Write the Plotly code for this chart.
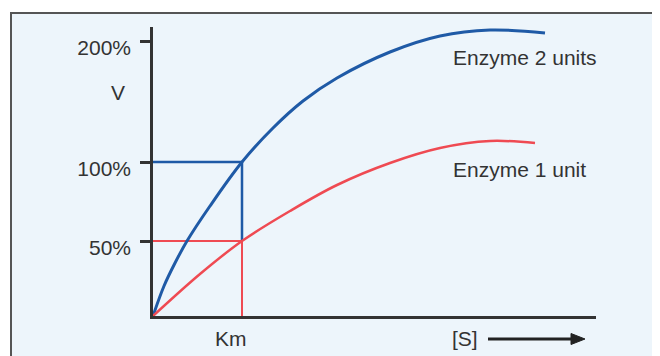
import plotly.graph_objects as go

# Schematic substrate axis (arbitrary units) and velocity (arbitrary units)
s_blue = [0, 11, 22, 34, 57, 89, 120, 150, 184, 237, 287, 337, 392]
v_blue = [0, 30, 53, 75, 110, 154, 188, 215, 238, 264, 280, 286, 283]
s_red = [0, 47, 89, 137, 184, 237, 287, 337, 382]
v_red = [0, 42, 75, 105, 131, 153, 168, 175, 173]

km = 89
v_half = 75
v_full = 154
y_tickvals = [75, 154, 275]
y_ticktext = ["50%", "100%", "200%"]
x_labels = ["Km", "[S]"]
x_label_pos = [78, 312]

X_MAX = 443
Y_MAX = 289

BLUE = "#1f5aa6"
RED = "#ef4a52"
INK = "#333333"
FONT = "Liberation Sans, Arial, sans-serif"


def px(xp):
    return (xp - 153) / X_MAX


def py(yp):
    return (316 - yp) / Y_MAX


fig = go.Figure()
# guide lines
fig.add_trace(go.Scatter(x=[0, km, km], y=[v_full, v_full, v_half], mode="lines",
                         line=dict(color=BLUE, width=2.5), hoverinfo="skip"))
fig.add_trace(go.Scatter(x=[0, km, km], y=[v_half, v_half, 0], mode="lines",
                         line=dict(color=RED, width=2), hoverinfo="skip"))
# curves
fig.add_trace(go.Scatter(x=s_blue, y=v_blue, mode="lines",
                         line=dict(color=BLUE, width=3, shape="spline", smoothing=1.0)))
fig.add_trace(go.Scatter(x=s_red, y=v_red, mode="lines",
                         line=dict(color=RED, width=2.5, shape="spline", smoothing=1.0)))

annotations = [
    dict(x=px(118), y=py(92), xref="paper", yref="paper", text="V", showarrow=False,
         xanchor="center", yanchor="middle", font=dict(size=21, color=INK)),
    dict(x=px(451), y=py(57), xref="paper", yref="paper", text="Enzyme 2 units",
         showarrow=False, xanchor="left", yanchor="middle", font=dict(size=21, color=INK)),
    dict(x=px(451), y=py(169), xref="paper", yref="paper", text="Enzyme 1 unit",
         showarrow=False, xanchor="left", yanchor="middle", font=dict(size=21, color=INK)),
]
for lab, pos in zip(x_labels, x_label_pos):
    annotations.append(dict(x=pos / X_MAX, y=py(338), xref="paper", yref="paper",
                            text=lab, showarrow=False, xanchor="center", yanchor="middle",
                            font=dict(size=21, color=INK)))

shapes = [
    dict(type="rect", xref="paper", yref="paper", layer="below",
         x0=px(11), x1=px(664), y0=py(362), y1=py(13),
         fillcolor="#edf5fb", line=dict(color="#555555", width=2)),
    # [S] arrow shaft and head
    dict(type="line", xref="paper", yref="paper", x0=px(488), x1=px(574), y0=py(339), y1=py(339),
         line=dict(color="#222222", width=3)),
    dict(type="path", xref="paper", yref="paper",
         path=f"M {px(571)} {py(333.5)} L {px(585)} {py(339)} L {px(571)} {py(344.5)} Z",
         fillcolor="#222222", line=dict(color="#222222", width=1)),
]

fig.update_layout(
    width=652, height=348,
    margin=dict(l=145, r=64, t=19, b=40),
    paper_bgcolor="white", plot_bgcolor="rgba(0,0,0,0)",
    showlegend=False,
    font=dict(family=FONT, size=21, color=INK),
    xaxis=dict(range=[0, X_MAX], showgrid=False, zeroline=False, showline=True,
               linecolor=INK, linewidth=2.5, showticklabels=False,
               ticks="", automargin=False, fixedrange=True),
    yaxis=dict(range=[0, Y_MAX], showgrid=False, zeroline=False, showline=True,
               linecolor=INK, linewidth=2.5, tickvals=y_tickvals, ticktext=y_ticktext,
               ticks="outside", ticklen=10, tickwidth=2.5, tickcolor=INK,
               ticklabelstandoff=5, ticklabelshift=7, automargin=False, fixedrange=True),
    shapes=shapes,
    annotations=annotations,
)

fig.write_html("out.html")
